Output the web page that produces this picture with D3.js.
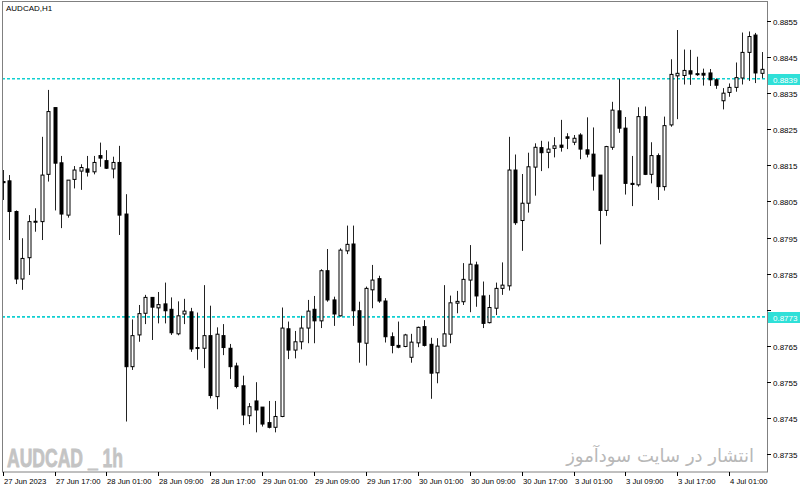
<!DOCTYPE html>
<html>
<head>
<meta charset="utf-8">
<script src="https://cdn.jsdelivr.net/npm/d3@7"></script>
<style>
body{margin:0;background:#fff}
svg{display:block}
text{font-family:"Liberation Sans",Arial,sans-serif}
</style>
</head>
<body>
<div id="chart"></div>
<script>
// AUDCAD H1 candles (bar 0 = left edge)
var opens = [0.88105,0.88107,0.88022,0.87835,0.87894,0.87994,0.87994,0.88125,0.88310,0.88157,
  0.88012,0.88111,0.88134,0.88140,0.88132,0.88177,0.88163,0.88140,0.88158,0.88015,
  0.87592,0.87680,0.87740,0.87784,0.87755,0.87766,0.87751,0.87683,0.87738,0.87744,
  0.87645,0.87643,0.87678,0.87509,0.87678,0.87643,0.87594,0.87539,0.87456,0.87497,
  0.87480,0.87437,0.87424,0.87454,0.87697,0.87638,0.87661,0.87699,0.87751,0.87719,
  0.87858,0.87777,0.87733,0.87913,0.87932,0.87747,0.87657,0.87805,0.87836,0.87774,
  0.87675,0.87651,0.87648,0.87618,0.87658,0.87703,0.87654,0.87575,0.87649,0.87682,
  0.87768,0.87772,0.87832,0.87874,0.87788,0.87714,0.87754,0.87809,0.87816,0.88137,
  0.87997,0.88045,0.88145,0.88199,0.88186,0.88197,0.88206,0.88229,0.88214,0.88234,
  0.88193,0.88181,0.88123,0.88025,0.88200,0.88301,0.88253,0.88100,0.88096,0.88285,
  0.88125,0.88177,0.88091,0.88262,0.88398,0.88399,0.88412,0.88404,0.88405,0.88406,
  0.88387,0.88329,0.88352,0.88366,0.88392,0.88463,0.88511,0.88405];
var highs = [0.88137,0.88123,0.88025,0.87948,0.88012,0.88031,0.88229,0.88359,0.88310,0.88176,
  0.88109,0.88148,0.88153,0.88176,0.88176,0.88213,0.88192,0.88174,0.88204,0.88070,
  0.87723,0.87763,0.87791,0.87784,0.87799,0.87825,0.87784,0.87773,0.87780,0.87755,
  0.87742,0.87818,0.87761,0.87701,0.87710,0.87655,0.87603,0.87567,0.87491,0.87549,
  0.87480,0.87497,0.87497,0.87756,0.87717,0.87691,0.87733,0.87777,0.87788,0.87862,
  0.87918,0.87786,0.87920,0.87983,0.87983,0.87772,0.87814,0.87874,0.87844,0.87782,
  0.87687,0.87717,0.87683,0.87683,0.87703,0.87721,0.87672,0.87671,0.87818,0.87789,
  0.87802,0.87879,0.87929,0.87883,0.87828,0.87791,0.87825,0.87881,0.88229,0.88180,
  0.88126,0.88185,0.88211,0.88218,0.88216,0.88228,0.88276,0.88239,0.88234,0.88239,
  0.88283,0.88255,0.88123,0.88204,0.88326,0.88389,0.88284,0.88176,0.88311,0.88313,
  0.88214,0.88183,0.88285,0.88444,0.88525,0.88471,0.88470,0.88451,0.88418,0.88417,
  0.88391,0.88364,0.88377,0.88435,0.88518,0.88521,0.88517,0.88464];
var lows = [0.88054,0.87943,0.87821,0.87805,0.87846,0.87966,0.87943,0.88105,0.88025,0.87976,
  0.88005,0.88086,0.88082,0.88119,0.88125,0.88146,0.88140,0.88114,0.87957,0.87440,
  0.87583,0.87661,0.87710,0.87666,0.87712,0.87712,0.87680,0.87679,0.87710,0.87633,
  0.87611,0.87588,0.87504,0.87474,0.87624,0.87558,0.87532,0.87430,0.87433,0.87410,
  0.87426,0.87421,0.87410,0.87452,0.87613,0.87615,0.87640,0.87657,0.87657,0.87699,
  0.87772,0.87705,0.87731,0.87904,0.87705,0.87603,0.87595,0.87754,0.87769,0.87659,
  0.87629,0.87643,0.87646,0.87603,0.87646,0.87648,0.87503,0.87546,0.87648,0.87657,
  0.87740,0.87763,0.87743,0.87758,0.87699,0.87712,0.87735,0.87791,0.87803,0.87985,
  0.87913,0.88019,0.88066,0.88134,0.88142,0.88172,0.88188,0.88195,0.88206,0.88167,
  0.88172,0.88080,0.87931,0.88010,0.88193,0.88240,0.88069,0.88037,0.88091,0.88123,
  0.88100,0.88054,0.88080,0.88257,0.88278,0.88374,0.88373,0.88398,0.88371,0.88370,
  0.88362,0.88305,0.88340,0.88354,0.88374,0.88384,0.88378,0.88391];
var closes = [0.88102,0.88022,0.87835,0.87892,0.87994,0.87995,0.88123,0.88299,0.88156,0.88015,
  0.88109,0.88137,0.88144,0.88131,0.88158,0.88170,0.88142,0.88158,0.88012,0.87592,
  0.87678,0.87739,0.87784,0.87757,0.87764,0.87747,0.87686,0.87733,0.87746,0.87641,
  0.87644,0.87678,0.87512,0.87682,0.87645,0.87592,0.87537,0.87458,0.87481,0.87472,
  0.87433,0.87424,0.87454,0.87699,0.87638,0.87661,0.87699,0.87746,0.87719,0.87858,
  0.87777,0.87738,0.87915,0.87931,0.87747,0.87660,0.87809,0.87832,0.87774,0.87675,
  0.87651,0.87646,0.87680,0.87660,0.87701,0.87651,0.87574,0.87649,0.87683,0.87769,
  0.87773,0.87834,0.87876,0.87788,0.87712,0.87756,0.87809,0.87818,0.88137,0.87991,
  0.88045,0.88146,0.88200,0.88185,0.88195,0.88204,0.88200,0.88225,0.88225,0.88195,
  0.88181,0.88120,0.88025,0.88202,0.88303,0.88253,0.88100,0.88097,0.88285,0.88125,
  0.88177,0.88091,0.88260,0.88402,0.88405,0.88413,0.88403,0.88402,0.88400,0.88387,
  0.88372,0.88350,0.88366,0.88393,0.88463,0.88507,0.88406,0.88416];

// one label every 8 bars
var timeLabels = ["27 Jun 2023","27 Jun 17:00","28 Jun 01:00","28 Jun 09:00","28 Jun 17:00",
  "29 Jun 01:00","29 Jun 09:00","29 Jun 17:00","30 Jun 01:00","30 Jun 09:00","30 Jun 17:00",
  "3 Jul 01:00","3 Jul 09:00","3 Jul 17:00","4 Jul 01:00"];
var priceTicks = [0.8735,0.8745,0.8755,0.8765,0.8775,0.8785,0.8795,0.8805,0.8815,0.8825,0.8835,0.8845,0.8855];
var levels = [0.8839, 0.8773];
var symbol = "AUDCAD,H1";

var W = 800, H = 490;
var pLeft = 2, pRight = 767, pTop = 2, pBottom = 472;
var cyan = "#2fe0d8";

var svg = d3.select("#chart").append("svg").attr("width", W).attr("height", H);

var n = opens.length;
var x = d3.scaleLinear().domain([0, n - 1]).range([2.7, 761.7]);
var y = d3.scaleLinear().domain([0.8735, 0.8855]).range([454, 21]);

var bars = d3.range(n).map(i => ({i: i, o: opens[i], h: highs[i], l: lows[i], c: closes[i]}));

svg.append("clipPath").attr("id", "plot")
  .append("rect").attr("x", pLeft + 1).attr("y", pTop).attr("width", pRight - pLeft - 1).attr("height", pBottom - pTop);

// level lines (dashed, cyan)
svg.append("g").attr("class", "levels").selectAll("path").data(levels).join("path")
  .attr("d", d => "M" + pLeft + "," + y(d) + "H" + pRight)
  .style("stroke", "#10d0d0").style("stroke-width", "1.6px").style("fill", "none")
  .style("stroke-dasharray", "3,2");

var plot = svg.append("g").attr("clip-path", "url(#plot)");
var px = d => Math.round(x(d.i));

var candle = plot.selectAll(".candle").data(bars).join("g").attr("class", "candle");
candle.append("line")
  .attr("x1", d => px(d) + 0.5).attr("x2", d => px(d) + 0.5)
  .attr("y1", d => y(d.h)).attr("y2", d => y(d.l))
  .attr("stroke", "#222").attr("stroke-width", 1);
candle.append("rect")
  .attr("x", d => px(d) - 1)
  .attr("y", d => Math.min(y(d.o), y(d.c)))
  .attr("width", 3)
  .attr("height", d => Math.max(1, Math.abs(y(d.o) - y(d.c))))
  .attr("fill", d => d.c >= d.o ? "#fff" : "#000")
  .attr("stroke", "#000").attr("stroke-width", 1);

// frame
svg.append("rect").attr("x", pLeft + 0.5).attr("y", pTop - 0.5)
  .attr("width", pRight - pLeft).attr("height", pBottom - pTop + 0.5)
  .attr("fill", "none").attr("stroke", "#808080");

// price axis (labels hidden where a level marker sits)
var ya = svg.append("g").selectAll("g").data(priceTicks).join("g")
  .attr("transform", d => "translate(0," + Math.round(y(d)) + ")");
ya.append("line").attr("x1", pRight).attr("x2", pRight + 4).attr("y1", 0.5).attr("y2", 0.5).attr("stroke", "#000");
ya.filter(d => levels.every(v => Math.abs(y(v) - y(d)) > 9))
  .append("text").attr("x", 773).attr("y", 3.5).attr("font-size", 8).attr("fill", "#000").text(d => d.toFixed(4));

var lv = svg.append("g").selectAll("g").data(levels).join("g")
  .attr("transform", d => "translate(0," + Math.round(y(d)) + ")");
lv.append("rect").attr("x", pRight + 1).attr("y", -5).attr("width", W - pRight - 1).attr("height", 11).attr("fill", cyan);
lv.append("text").attr("x", 773).attr("y", 3.5).attr("font-size", 8).attr("fill", "#fff").text(d => d.toFixed(4));

// time axis
var xa = svg.append("g").selectAll("g").data(timeLabels).join("g")
  .attr("transform", (d, k) => "translate(" + Math.round(x(k * 8)) + ",0)");
xa.append("line").attr("x1", 0.5).attr("x2", 0.5).attr("y1", pBottom).attr("y2", pBottom + 4).attr("stroke", "#000");
xa.append("text").attr("x", 1).attr("y", 484).attr("font-size", 7.7).attr("fill", "#000").text(d => d);

// title + watermarks
svg.append("text").attr("x", 6).attr("y", 11).attr("font-size", 8).attr("fill", "#000").text(symbol);
svg.append("text").attr("x", 7).attr("y", 467).attr("font-size", 25).attr("font-weight", "bold")
  .attr("fill", "#c4c4c4").attr("stroke", "#c4c4c4").attr("stroke-width", 0.8)
  .attr("textLength", 116).attr("lengthAdjust", "spacingAndGlyphs").text("AUDCAD _ 1h");
svg.append("text").attr("x", 754).attr("y", 462).attr("text-anchor", "end")
  .style("font-family", "'DejaVu Sans', sans-serif").attr("font-size", 18)
  .attr("fill", "#b8b8b8").text("انتشار در سایت سودآموز");
</script>
</body>
</html>
